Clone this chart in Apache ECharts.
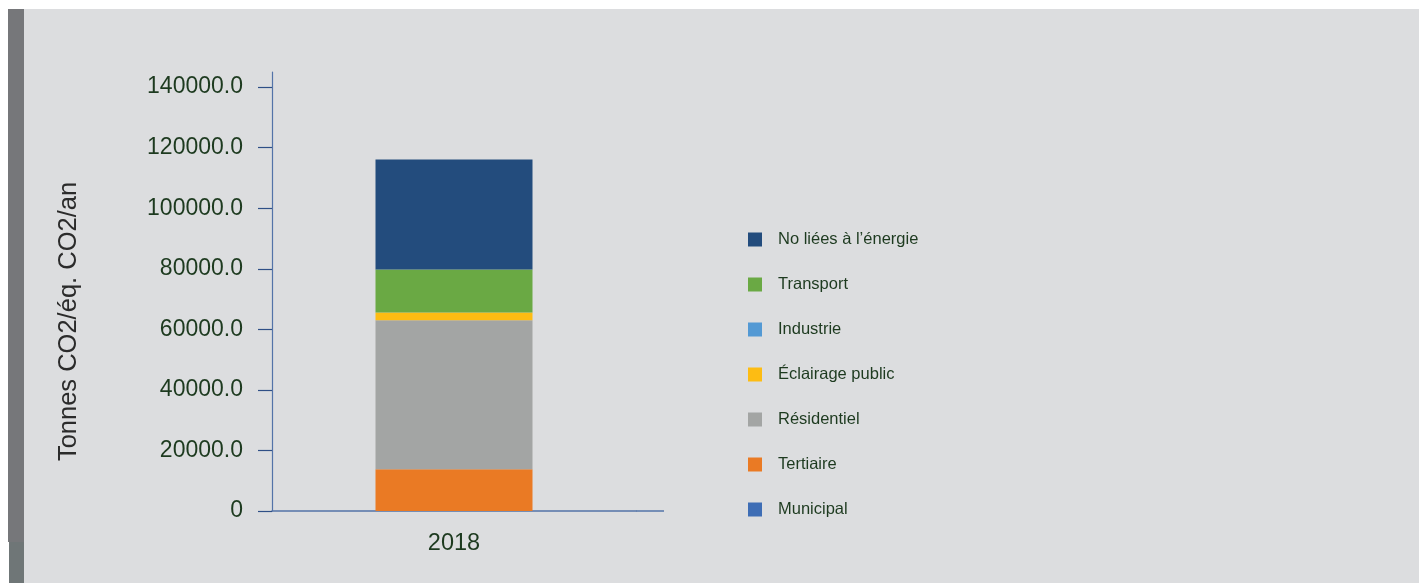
<!DOCTYPE html>
<html>
<head>
<meta charset="utf-8">
<script src="https://cdn.jsdelivr.net/npm/echarts@6/dist/echarts.min.js"></script>
<style>
  html, body { margin: 0; padding: 0; background: #ffffff; }
  #wrap { position: relative; width: 1419px; height: 583px; overflow: hidden; background: #ffffff; }
  #panel { position: absolute; left: 24px; top: 9px; right: 0; bottom: 0; background: #dcdddf; }
  #edge { position: absolute; left: 8px; top: 9px; width: 16px; height: 533px; background: #76777a; }
  #edge2 { position: absolute; left: 9px; top: 542px; width: 15px; bottom: 0; background: #6f7677; }
  #chart { position: absolute; left: 0; top: 0; width: 1419px; height: 583px; }
</style>
</head>
<body>
<div id="wrap">
  <div id="panel"></div>
  <div id="edge"></div>
  <div id="edge2"></div>
  <div id="chart"></div>
</div>
<script>
// Emissions by sector, tonnes CO2 eq. per year
const categories = ['2018'];

const municipal     = [0];
const tertiaire     = [13800];
const residentiel   = [49200];
const eclairage     = [2600];
const industrie     = [0];
const transport     = [14200];
const nonEnergie    = [36300];

const yTickValues = [0, 20000, 40000, 60000, 80000, 100000, 120000, 140000];

const sectorNames = {
  municipal: 'Municipal',
  tertiaire: 'Tertiaire',
  residentiel: 'Résidentiel',
  eclairage: 'Éclairage public',
  industrie: 'Industrie',
  transport: 'Transport',
  nonEnergie: 'No liées à l\u2019énergie'
};

const sectorColors = {
  municipal: '#3e6db5',
  tertiaire: '#ea7a24',
  residentiel: '#a3a5a4',
  eclairage: '#fdbc13',
  industrie: '#5399d4',
  transport: '#6aa944',
  nonEnergie: '#234c7d'
};

// stacking order, bottom to top
const stackOrder = [
  ['municipal', municipal],
  ['tertiaire', tertiaire],
  ['residentiel', residentiel],
  ['eclairage', eclairage],
  ['industrie', industrie],
  ['transport', transport],
  ['nonEnergie', nonEnergie]
];

const textGreen = '#1d3a1f';
const axisBlue = '#5373a8';

const series = stackOrder.map(([key, values]) => ({
  name: sectorNames[key],
  type: 'bar',
  stack: 'total',
  barWidth: 157,
  data: values,
  itemStyle: { color: sectorColors[key] },
  emphasis: { disabled: true }
}));

const chart = echarts.init(document.getElementById('chart'), null, { renderer: 'canvas' });

const gridLeft = 272, gridRight = 1419 - 636, gridTop = 72, gridBottom = 72;

chart.setOption({
  animation: false,
  backgroundColor: 'transparent',
  textStyle: { fontFamily: 'Liberation Sans, Arial, sans-serif' },
  grid: { left: gridLeft, right: gridRight, top: gridTop, bottom: gridBottom },
  legend: {
    orient: 'vertical',
    left: 748,
    top: 231,
    padding: 0,
    icon: 'rect',
    itemWidth: 14,
    itemHeight: 14,
    itemGap: 28,
    selectedMode: false,
    data: stackOrder.slice().reverse().map(([key]) => sectorNames[key]),
    textStyle: {
      color: textGreen,
      fontSize: 16.5,
      fontFamily: 'Liberation Sans, Arial, sans-serif',
      padding: [0, 0, 0, 11]
    }
  },
  xAxis: {
    type: 'category',
    data: categories,
    axisLine: { lineStyle: { color: axisBlue, width: 1.5 } },
    axisTick: { show: false },
    axisLabel: { color: textGreen, fontSize: 23.5, margin: 21 }
  },
  yAxis: {
    type: 'value',
    min: 0,
    max: 145000,
    name: 'Tonnes CO2/éq. CO2/an',
    nameLocation: 'middle',
    nameGap: 190,
    nameTextStyle: {
      color: '#2b2b2b',
      fontSize: 25.5,
      fontFamily: 'Liberation Sans, Arial, sans-serif',
      padding: [0, 60, 0, 0]
    },
    axisLine: { show: true, lineStyle: { color: axisBlue, width: 1.2 } },
    axisTick: {
      show: true,
      length: 14,
      customValues: yTickValues,
      lineStyle: { color: '#2f4f86', width: 1.2 }
    },
    axisLabel: {
      color: textGreen,
      fontSize: 23,
      margin: 29,
      customValues: yTickValues,
      formatter: v => (v === 0 ? '0' : v.toFixed(1))
    },
    splitLine: { show: false }
  },
  series: series
});

// carry the category axis line on past the plotting area
const baseY = chart.convertToPixel({ yAxisIndex: 0 }, 0);
const plotRight = 1419 - gridRight;
chart.setOption({
  graphic: [{
    type: 'line',
    shape: { x1: plotRight, y1: baseY, x2: plotRight + 28, y2: baseY },
    style: { stroke: axisBlue, lineWidth: 1.5 },
    silent: true
  }]
});
</script>
</body>
</html>
